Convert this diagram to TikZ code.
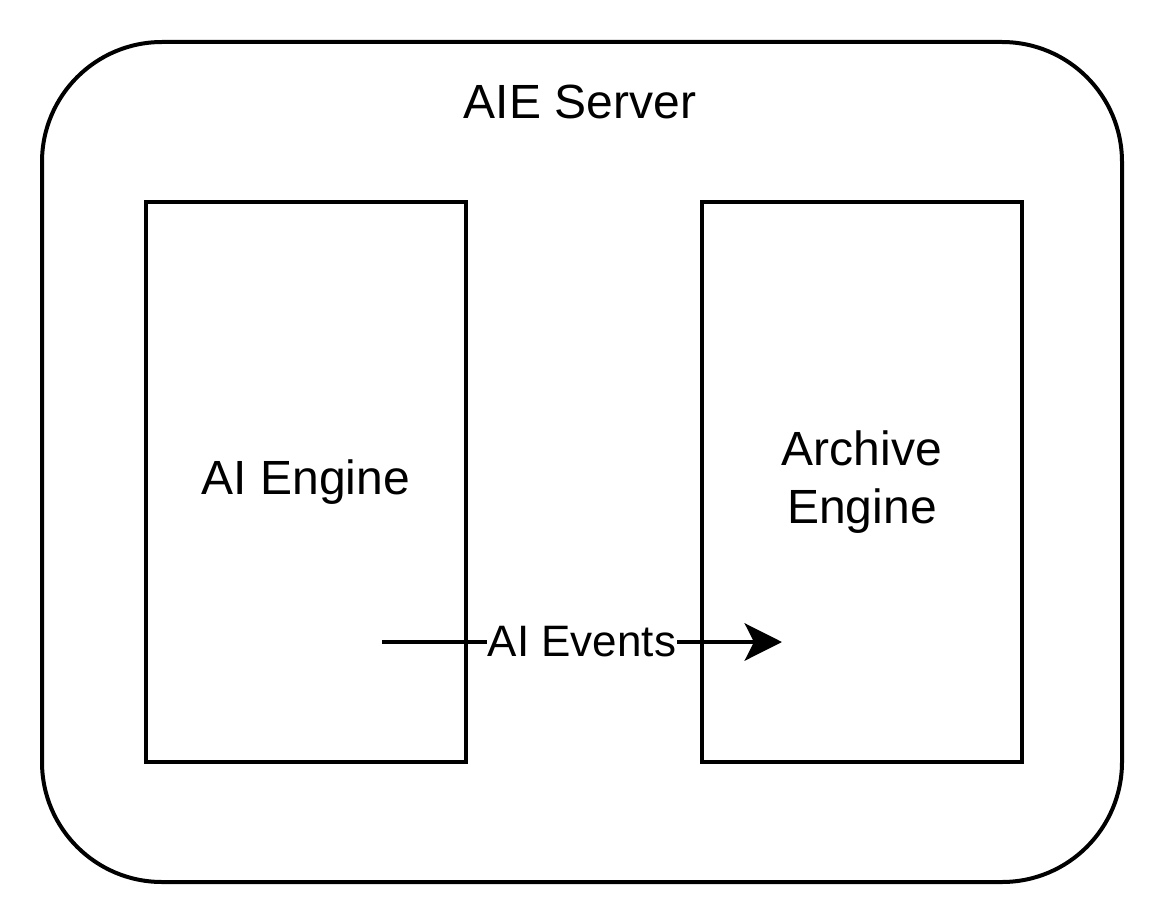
\documentclass[tikz,border=0pt]{standalone}
\usepackage{fontspec}
\setmainfont{Liberation Sans}
\usetikzlibrary{arrows.meta,positioning}
\tikzset{
  engine/.style={draw,line width=3pt,minimum width=240pt,minimum height=420pt,
    inner sep=0pt,align=center,font=\fontsize{36}{43}\selectfont},
  server/.style={draw,line width=3pt,rounded corners=90pt,minimum width=810pt,
    minimum height=630pt,inner sep=0pt},
}
\begin{document}
\begin{tikzpicture}[x=0.75pt,y=-0.75pt]
  \useasboundingbox (0,0) rectangle (1164,924);
  % outer server frame
  \node[server] (aie) at (582,462) {};
  \node[font=\fontsize{36}{43}\selectfont,anchor=base] (aietitle) at (580,118) {AIE Server};
  % the two engines
  \node[engine] (aieng) at (306,482) {AI Engine};
  \node[engine] (archeng) at (862,482) {Archive\\Engine};
  % events
  \coordinate (evfrom) at (382,642);
  \coordinate (evto) at (782,642);
  \draw[line width=3pt,-{Stealth[length=28pt,width=28pt,inset=7pt]}] (evfrom) --
    node[fill=white,inner sep=1pt,font=\fontsize{33}{40}\selectfont] (evlabel) {AI Events} (evto);
\end{tikzpicture}
\end{document}
